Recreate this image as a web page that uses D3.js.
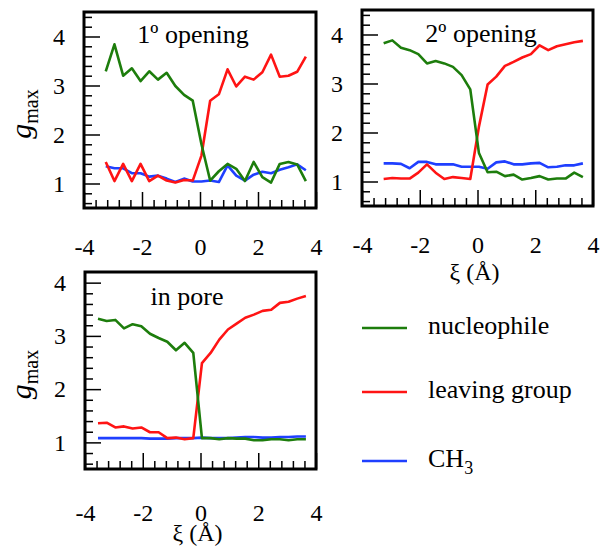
<!DOCTYPE html>
<html lang="en">
<head>
<meta charset="UTF-8">
<title>g max along reaction coordinate</title>
<script src="https://d3js.org/d3.v7.min.js"></script>
<style>
    body { margin: 0; background: #fff; }
    svg text { font-family: "Liberation Serif", "Times New Roman", Times, "DejaVu Serif", serif; }
</style>
</head>
<body>
<svg id="chart" width="600" height="548"></svg>
<script>
// reaction coordinate xi (Å)
const xiOpening = [-3.25, -2.95, -2.65, -2.35, -2.05, -1.75, -1.45, -1.15, -0.85, -0.55, -0.25, 0.05,
                   0.35, 0.65, 0.95, 1.25, 1.55, 1.85, 2.15, 2.45, 2.75, 3.05, 3.35, 3.65];
const xiPore = [-3.55, -3.25, -2.95, -2.65, -2.35, -2.05, -1.75, -1.45, -1.15, -0.85, -0.55, -0.25, 0.05,
                0.35, 0.65, 0.95, 1.25, 1.55, 1.85, 2.15, 2.45, 2.75, 3.05, 3.35, 3.65];

// 1º opening
const nuc1 = [3.29, 3.84, 3.20, 3.35, 3.09, 3.29, 3.12, 3.26, 2.99, 2.81, 2.69, 1.80, 1.06, 1.25, 1.40, 1.30, 1.05, 1.44, 1.13, 1.02, 1.40, 1.44, 1.39, 1.05];
const lg1  = [1.44, 1.05, 1.40, 1.05, 1.40, 1.05, 1.16, 1.06, 1.02, 1.07, 1.06, 1.57, 2.69, 2.82, 3.33, 2.98, 3.18, 3.12, 3.27, 3.63, 3.18, 3.20, 3.28, 3.59];
const ch1  = [1.35, 1.31, 1.31, 1.21, 1.21, 1.14, 1.16, 1.10, 1.03, 1.10, 1.04, 1.04, 1.06, 1.03, 1.37, 1.16, 1.06, 1.18, 1.24, 1.21, 1.28, 1.33, 1.39, 1.27];

// 2º opening
const nuc2 = [3.82, 3.88, 3.73, 3.68, 3.60, 3.41, 3.46, 3.41, 3.34, 3.17, 2.88, 1.58, 1.19, 1.20, 1.11, 1.14, 1.04, 1.07, 1.11, 1.04, 1.06, 1.06, 1.18, 1.09];
const lg2  = [1.05, 1.07, 1.06, 1.06, 1.18, 1.35, 1.18, 1.05, 1.09, 1.07, 1.05, 2.12, 2.98, 3.14, 3.36, 3.44, 3.53, 3.60, 3.78, 3.68, 3.76, 3.80, 3.84, 3.87];
const ch2  = [1.37, 1.37, 1.36, 1.27, 1.40, 1.40, 1.35, 1.35, 1.35, 1.30, 1.30, 1.30, 1.26, 1.39, 1.41, 1.35, 1.35, 1.37, 1.38, 1.29, 1.30, 1.33, 1.33, 1.37];

// in pore
const nuc3 = [3.32, 3.28, 3.30, 3.14, 3.22, 3.18, 3.04, 2.96, 2.89, 2.73, 2.87, 2.68, 1.08, 1.08, 1.06, 1.08, 1.07, 1.07, 1.04, 1.04, 1.06, 1.06, 1.04, 1.06, 1.06];
const lg3  = [1.36, 1.37, 1.28, 1.30, 1.26, 1.28, 1.19, 1.19, 1.08, 1.09, 1.06, 1.08, 2.49, 2.68, 2.93, 3.12, 3.23, 3.34, 3.40, 3.47, 3.49, 3.62, 3.64, 3.70, 3.75];
const ch3  = [1.08, 1.08, 1.08, 1.08, 1.08, 1.08, 1.07, 1.07, 1.07, 1.08, 1.08, 1.08, 1.09, 1.08, 1.08, 1.08, 1.09, 1.10, 1.10, 1.09, 1.09, 1.10, 1.10, 1.11, 1.11];

const seriesNames = ["nucleophile", "leaving group", "CH3"];
const xMajor = [-4, -2, 0, 2, 4];
const yMajor = [1, 2, 3, 4];

const colors = { "nucleophile": "#1d7d0c", "leaving group": "#ff1414", "CH3": "#1f3fff" };
const serif = '"Liberation Serif", "Times New Roman", Times, "DejaVu Serif", serif';

const svg = d3.select("#chart");

const panels = [
    { title: "1º opening", xi: xiOpening, vals: [nuc1, lg1, ch1], box: [84, 316, 12, 208], yDom: [0.5, 4.5],
      titleAt: [193, 43], yTitle: true, xTitle: false, xPad: 30 },
    { title: "2º opening", xi: xiOpening, vals: [nuc2, lg2, ch2], box: [362, 593, 10, 206], yDom: [0.5, 4.5],
      titleAt: [481, 42], yTitle: false, xTitle: true, xPad: 30, xTitleY: 280 },
    { title: "in pore", xi: xiPore, vals: [nuc3, lg3, ch3], box: [85, 316, 272, 469], yDom: [0.5, 4.2],
      titleAt: [187, 305], yTitle: true, xTitle: true, xPad: 35, xTitleY: 541 }
];

function drawPanel(p) {
    const [x0, x1, y0, y1] = p.box;
    const x = d3.scaleLinear().domain([-4, 4]).range([x0, x1]);
    const y = d3.scaleLinear().domain(p.yDom).range([y1, y0]);

    const g = svg.append("g");

    // minor ticks
    const xMinor = d3.range(-3.6, 3.61, 0.4).filter(v => Math.abs(v % 2) > 0.01);
    const yMinor = d3.range(0.6, p.yDom[1] - 0.05, 0.2).filter(v => Math.abs(v - Math.round(v)) > 0.01);

    g.append("g")
        .attr("transform", `translate(0,${y1})`)
        .call(d3.axisBottom(x).tickValues(xMinor).tickSize(-8).tickFormat(""))
        .call(a => a.select(".domain").remove())
        .selectAll("line").attr("stroke", "#000").attr("stroke-width", 1.5);

    g.append("g")
        .attr("transform", `translate(${x0},0)`)
        .call(d3.axisLeft(y).tickValues(yMinor).tickSize(-8).tickFormat(""))
        .call(a => a.select(".domain").remove())
        .selectAll("line").attr("stroke", "#000").attr("stroke-width", 1.5);

    // major ticks + labels
    const xa = g.append("g")
        .attr("transform", `translate(0,${y1})`)
        .call(d3.axisBottom(x).tickValues(xMajor).tickSize(-16).tickPadding(p.xPad).tickFormat(d => String(d)));
    xa.attr("font-family", serif);
    xa.select(".domain").remove();
    xa.selectAll("line").attr("stroke", "#000").attr("stroke-width", 1.5);
    xa.selectAll("text").attr("font-size", 24).attr("fill", "#000");

    const ya = g.append("g")
        .attr("transform", `translate(${x0},0)`)
        .call(d3.axisLeft(y).tickValues(yMajor).tickSize(-16).tickPadding(19).tickFormat(d => String(d)));
    ya.attr("font-family", serif);
    ya.select(".domain").remove();
    ya.selectAll("line").attr("stroke", "#000").attr("stroke-width", 1.5);
    ya.selectAll("text").attr("font-size", 24).attr("fill", "#000");

    // data lines: CH3 first, then leaving group, nucleophile on top
    const line = d3.line().x(d => x(d[0])).y(d => y(d[1]));
    [2, 1, 0].forEach(k => {
        g.append("path")
            .datum(p.xi.map((v, i) => [v, p.vals[k][i]]))
            .attr("d", line)
            .attr("fill", "none")
            .attr("stroke", colors[seriesNames[k]])
            .attr("stroke-width", 2.6)
            .attr("stroke-linejoin", "round");
    });

    // frame
    g.append("rect")
        .attr("x", x0).attr("y", y0)
        .attr("width", x1 - x0).attr("height", y1 - y0)
        .attr("fill", "none").attr("stroke", "#000").attr("stroke-width", 3);

    g.append("text")
        .attr("x", p.titleAt[0]).attr("y", p.titleAt[1])
        .attr("text-anchor", "middle").attr("font-size", 26)
        .text(p.title);

    if (p.yTitle) {
        const t = g.append("text")
            .attr("transform", `translate(31,${(y0 + y1) / 2 + 4}) rotate(-90)`)
            .attr("text-anchor", "middle");
        t.append("tspan").attr("font-style", "italic").attr("font-size", 30).text("g");
        t.append("tspan").attr("font-size", 20).attr("dy", 7).text("max");
    }
    if (p.xTitle) {
        g.append("text")
            .attr("x", (x0 + x1) / 2 - 3).attr("y", p.xTitleY)
            .attr("text-anchor", "middle").attr("font-size", 24)
            .text("ξ (Å)");
    }
}

panels.forEach(drawPanel);

// legend
const legend = svg.append("g");
const legendY = [328, 392, 461];
seriesNames.forEach((name, i) => {
    legend.append("line")
        .attr("x1", 362).attr("x2", 407)
        .attr("y1", legendY[i]).attr("y2", legendY[i])
        .attr("stroke", colors[name]).attr("stroke-width", 2.6);
    const t = legend.append("text")
        .attr("x", 428).attr("y", legendY[i] + 6)
        .attr("font-size", 26);
    if (name === "CH3") {
        t.append("tspan").text("CH");
        t.append("tspan").attr("font-size", 18).attr("dy", 7).text("3");
    } else {
        t.text(name);
    }
});
</script>
</body>
</html>
